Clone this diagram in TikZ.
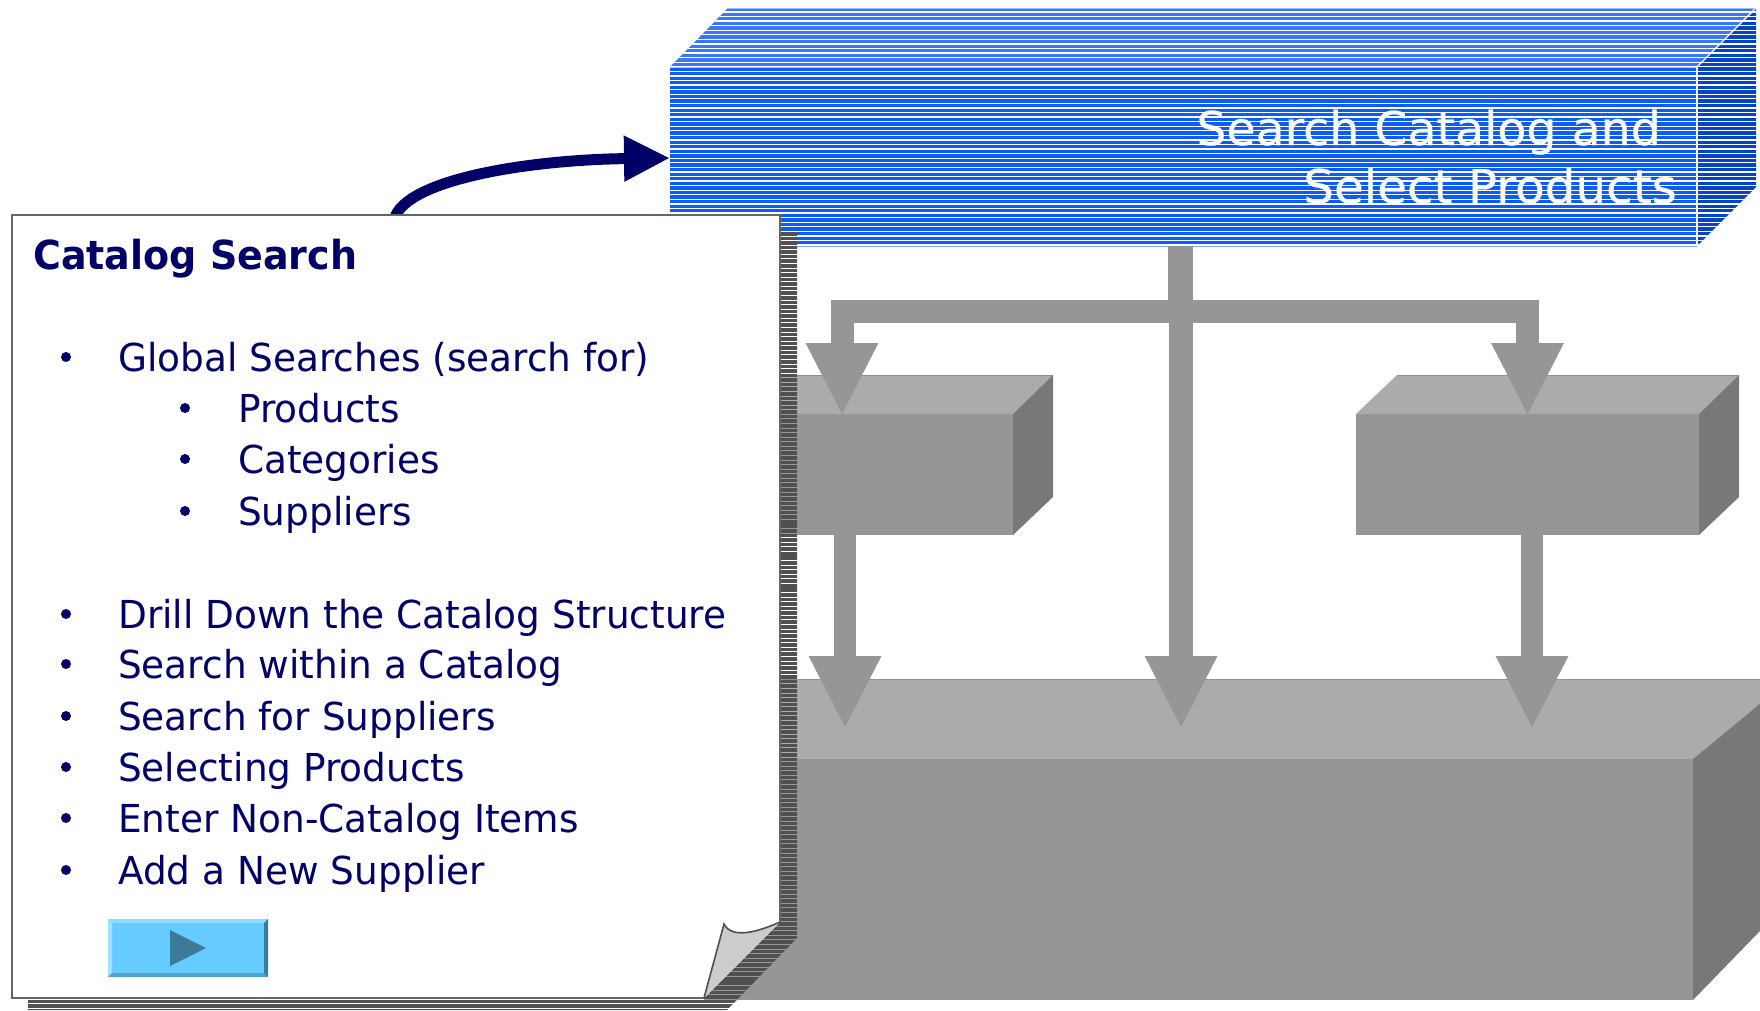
\documentclass[tikz,border=0pt]{standalone}
\usepackage{fontspec}
\usepackage{graphicx}
\usetikzlibrary{arrows.meta,calc}
\setmainfont[FakeStretch=0.972]{DejaVu Sans}
\newfontfamily\titlefont[FakeStretch=0.95]{DejaVu Sans Bold}
\newfontfamily\bluefont[FakeStretch=1.02,FakeBold=0.4]{DejaVu Sans}
\definecolor{navyc}{HTML}{000066}
\definecolor{gfront}{HTML}{969696}
\definecolor{gtop}{HTML}{ABABAB}
\definecolor{gside}{HTML}{787878}
\definecolor{bfront}{HTML}{0B5CFF}
\definecolor{btop}{HTML}{3C76FF}
\definecolor{bside}{HTML}{0044C8}
\definecolor{shadowc}{HTML}{505050}
\definecolor{btnface}{HTML}{66CCFF}
\tikzset{
  face/.style={rectangle,inner sep=0pt,outer sep=0pt,draw=none},
  flow/.style={draw=gfront,line width=22pt,-{Triangle[length=73pt,width=67pt]}},
  branch/.style={draw=gfront,line width=24pt},
  itemtext/.style={anchor=base west,inner sep=0pt,text=navyc,font=\fontsize{38.5pt}{46pt}\selectfont},
  bul/.style={circle,fill=navyc,inner sep=0pt,minimum size=10pt},
  titletext/.style={anchor=base west,inner sep=0pt,text=navyc,font=\fontsize{40pt}{48pt}\titlefont},
  bluetext/.style={anchor=base east,inner sep=0pt,text=white,font=\fontsize{46.5pt}{56pt}\bluefont},
}
\begin{document}
\begin{tikzpicture}[x=1pt,y=-1pt]
\useasboundingbox (0,0) rectangle (1760,1010);
% big gray box
\fill[gtop] (704,759) -- (760,679) -- (1790,679) -- (1693,759) -- cycle;
\draw[gtop!85!black,line width=1pt] (760,679) -- (1790,679);
\fill[gside] (1693,759) -- (1790,679) -- (1790,900) -- (1693,1000) -- cycle;
\node[face,fill=gfront,minimum width=989pt,minimum height=241pt,anchor=north west] (bigbox) at (704,759) {};
% left gray box
\fill[gtop] (760,414) -- (760,375) -- (1053,375) -- (1013,414) -- cycle;
\draw[gtop!85!black,line width=1pt] (760,375) -- (1053,375);
\fill[gside] (1013,414) -- (1053,375) -- (1053,497) -- (1013,535) -- cycle;
\node[face,fill=gfront,minimum width=253pt,minimum height=121pt,anchor=north west] (leftbox) at (760,414) {};
% right gray box
\fill[gtop] (1356,414) -- (1397,375) -- (1739,375) -- (1699,414) -- cycle;
\draw[gtop!85!black,line width=1pt] (1397,375) -- (1739,375);
\fill[gside] (1699,414) -- (1739,375) -- (1739,497) -- (1699,535) -- cycle;
\node[face,fill=gfront,minimum width=343pt,minimum height=121pt,anchor=north west] (rightbox) at (1356,414) {};
% blue box
\fill[btop] (670,67) -- (728,8) -- (1755,8) -- (1697,67) -- cycle;
\fill[bside] (1697,67) -- (1756,8) -- (1756,187) -- (1697,246) -- cycle;
\node[face,fill=bfront,minimum width=1027pt,minimum height=179pt,anchor=north west] (searchbox) at (670,67) {};
\begin{scope}
\clip (670,67) -- (728,8) -- (1757,8) -- (1757,187) -- (1697,247) -- (670,247) -- cycle;
\foreach \k in {0,...,52} \fill[white] (660,{11.3+\k*4.57}) rectangle (1760,{12.6+\k*4.57});
\end{scope}
\draw[white,line width=1.2pt] (670,67) -- (1697,67) -- (1756,8);
\draw[white,line width=1.2pt] (1697,67) -- (1697,246);
\draw[white!50!btop,line width=0.8pt] (728,8) -- (1755,8);
\draw[white!50!bfront,line width=0.8pt] (670,246.5) -- (1697,246.5);
\node[bluetext] (bluea) at (1661,145) {Search Catalog and};
\node[bluetext] (blueb) at (1677,203) {\scalebox{1.02}[1]{Select Products}};
% connectors
\coordinate (junction) at (1180,311);
\coordinate (lefttip) at (842,416);
\coordinate (righttip) at (1527.5,416);
\coordinate (lowa) at (845,729);
\coordinate (lowb) at (1181,729);
\coordinate (lowc) at (1532,729);
\draw[branch] (1180,246) -- (junction);
\draw[flow,line width=23pt] (junction) -| (lefttip);
\draw[flow,line width=23pt] (junction) -| (righttip);
\draw[flow,line width=24pt] (searchbox.south -| lowb) -- (lowb);
\draw[flow] (leftbox.south -| lowa) -- (lowa);
\draw[flow] (rightbox.south -| lowc) -- (lowc);
% curved arrow
\coordinate (curvestart) at (394,222);
\draw[navyc,line width=11pt,-{Triangle[length=46pt,width=43pt]}] (curvestart) .. controls (398,182) and (520,160) .. (searchbox.west |- 0,158);
% shadow
\begin{scope}
\clip (28,232) -- (797,232) -- (797,938) -- (727,1010) -- (28,1010) -- cycle;
\foreach \k in {0,...,170} \fill[shadowc] (20,{232+\k*4.57}) rectangle (800,{235.6+\k*4.57});
\end{scope}
% page
\fill[white] (12,215) -- (780,215) -- (780,922) -- (704,998) -- (12,998) -- cycle;
\draw[gray!80!black,line width=1.6pt] (780,922) -- (780,215) -- (12,215) -- (12,998) -- (704,998);
\fill[black!20] (780,922) .. controls (760,931) and (732,940) .. (724,924) -- (704,998) -- cycle;
\draw[shadowc,line width=1.6pt] (780,922) .. controls (760,931) and (732,940) .. (724,924) -- (704,998);
% page text
\node[titletext] (title) at (33,269) {Catalog Search};
\foreach \nm/\yy/\txt in {a/371/Global Searches (search for),e/628/Drill Down the Catalog Structure,f/678/Search within a Catalog,g/730/Search for Suppliers,h/781/Selecting Products,i/832/Enter Non-Catalog Items,j/884/Add a New Supplier} {
  \node[itemtext] (item\nm) at (118,\yy) {\txt};
  \node[bul] (bul\nm) at (66,\yy-14) {};
}
\foreach \nm/\yy/\txt in {b/422/Products,c/473/Categories,d/525/Suppliers} {
  \node[itemtext] (item\nm) at (238,\yy) {\txt};
  \node[bul] (bul\nm) at (185,\yy-14) {};
}
% button
\node[face,fill=btnface,minimum width=160pt,minimum height=58pt,anchor=north west] (button) at (108,919) {};
\fill[white!25!btnface] (108,919) -- (268,919) -- (264,923) -- (112,923) -- cycle;
\fill[white!40!btnface] (108,919) -- (112,923) -- (112,973) -- (108,977) -- cycle;
\fill[btnface!80!black] (108,977) -- (112,973) -- (264,973) -- (268,977) -- cycle;
\fill[btnface!60!black] (268,919) -- (264,923) -- (264,973) -- (268,977) -- cycle;
\fill[btnface!60!black] (170,930) -- (206,948) -- (170,966) -- cycle;
\end{tikzpicture}
\end{document}
